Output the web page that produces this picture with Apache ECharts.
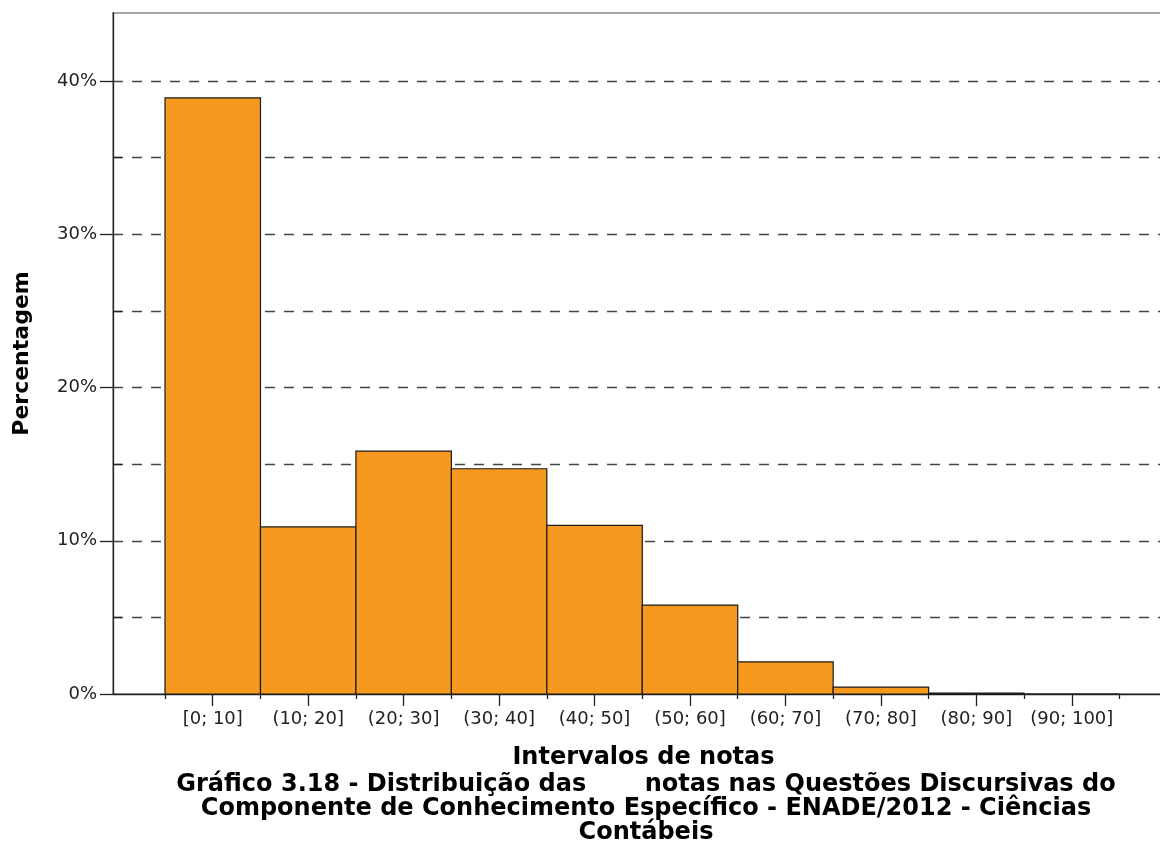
<!DOCTYPE html>
<html>
<head>
<meta charset="utf-8">
<script src="https://cdn.jsdelivr.net/npm/echarts@6/dist/echarts.min.js"></script>
<style>html,body{margin:0;padding:0;background:#fff;}#c{width:1160px;height:847px;}</style>
</head>
<body>
<div id="c"></div>
<script>
const categories = ['[0; 10]', '(10; 20]', '(20; 30]', '(30; 40]', '(40; 50]', '(50; 60]', '(60; 70]', '(70; 80]', '(80; 90]', '(90; 100]'];
const lowerBounds = [0, 10, 20, 30, 40, 50, 60, 70, 80, 90];
const upperBounds = [10, 20, 30, 40, 50, 60, 70, 80, 90, 100];
const percentages = [38.9, 10.9, 15.85, 14.7, 11.0, 5.8, 2.1, 0.45, 0.06, 0];
const binCenters = [5, 15, 25, 35, 45, 55, 65, 75, 85, 95];
const binEdges = [0, 10, 20, 30, 40, 50, 60, 70, 80, 90, 100];
const yTickLabels = [0, 10, 20, 30, 40];
const yMinorTicks = [5, 15, 25, 35];
const xAxisTitle = 'Intervalos de notas';
const yAxisTitle = 'Percentagem';
const captionLines = [
  'Gráfico 3.18 - Distribuição das       notas nas Questões Discursivas do',
  'Componente de Conhecimento Específico - ENADE/2012 - Ciências',
  'Contábeis'
];

const data = lowerBounds.map((lo, i) => [lo, upperBounds[i], percentages[i]]);
const FONT = 'DejaVu Sans';
const XMIN = -5.45, XMAX = 104.45, YMAX = 44.44;

const chart = echarts.init(document.getElementById('c'), null, {renderer: 'canvas'});
chart.setOption({
  backgroundColor: '#fff',
  animation: false,
  title: {
    text: captionLines.join('\n'),
    left: 641, top: 768, textAlign: 'center',
    textStyle: {fontFamily: FONT, fontWeight: 'bold', fontSize: 24, lineHeight: 24, color: '#000'}
  },
  grid: {left: 113, top: 13, right: -2, bottom: 153, outerBoundsMode: 'none', containLabel: false,
    show: true, borderColor: '#8a8a8a', borderWidth: 1.5, backgroundColor: 'transparent'},
  xAxis: [
    {
      type: 'value', min: XMIN, max: XMAX, position: 'bottom',
      name: xAxisTitle, nameLocation: 'middle', nameGap: 52,
      nameTextStyle: {fontFamily: FONT, fontWeight: 'bold', fontSize: 24, color: '#000', padding: [0, 0, 0, 12]},
      axisLine: {show: true, onZero: false, lineStyle: {color: '#222', width: 1.3}},
      axisTick: {show: true, customValues: binCenters, length: 12, lineStyle: {color: '#222', width: 1.3}},
      axisLabel: {show: true, customValues: binCenters, margin: 16, fontFamily: FONT, fontSize: 18, color: '#222',
        formatter: v => categories[binCenters.indexOf(Math.round(v))] || ''},
      splitLine: {show: false}
    },
    {
      type: 'value', min: XMIN, max: XMAX, position: 'bottom',
      axisLine: {show: false, onZero: false},
      axisTick: {show: true, customValues: binEdges, length: 5, lineStyle: {color: '#222', width: 1.3}},
      axisLabel: {show: false},
      splitLine: {show: false}
    }
  ],
  yAxis: [
    {
      type: 'value', min: 0, max: YMAX, position: 'left',
      name: yAxisTitle, nameLocation: 'middle', nameGap: 80, nameRotate: 90,
      nameTextStyle: {fontFamily: FONT, fontWeight: 'bold', fontSize: 22, color: '#000'},
      axisLine: {show: true, onZero: false, lineStyle: {color: '#222', width: 1.3}},
      axisTick: {show: true, customValues: yTickLabels, length: 13, lineStyle: {color: '#222', width: 1.3}},
      axisLabel: {show: true, customValues: yTickLabels, margin: 16, fontFamily: FONT, fontSize: 18, color: '#222',
        formatter: v => v + '%'},
      splitLine: {show: false}
    },
    {
      type: 'value', min: 0, max: YMAX, position: 'left',
      axisLine: {show: false, onZero: false},
      axisTick: {show: true, inside: true, customValues: yMinorTicks, length: 9, lineStyle: {color: '#222', width: 1.3}},
      axisLabel: {show: false},
      splitLine: {show: false}
    },
    {
      type: 'value', min: 0, max: YMAX, interval: 5, position: 'left',
      axisLine: {show: false, onZero: false},
      axisTick: {show: false},
      axisLabel: {show: false},
      splitLine: {show: true, showMinLine: false, showMaxLine: false, lineStyle: {color: '#444', width: 1.3, type: [10, 9]}}
    }
  ],
  series: [{
    type: 'custom',
    xAxisIndex: 0, yAxisIndex: 0,
    encode: {x: [0, 1], y: 2},
    data: data,
    renderItem: function (params, api) {
      const p0 = api.coord([api.value(0), 0]);
      const p1 = api.coord([api.value(1), api.value(2)]);
      return {
        type: 'rect',
        shape: {x: p0[0], y: p1[1], width: p1[0] - p0[0], height: p0[1] - p1[1]},
        style: {fill: '#F8991F', stroke: '#1a1a1a', lineWidth: 1.2}
      };
    }
  }]
});
</script>
</body>
</html>
